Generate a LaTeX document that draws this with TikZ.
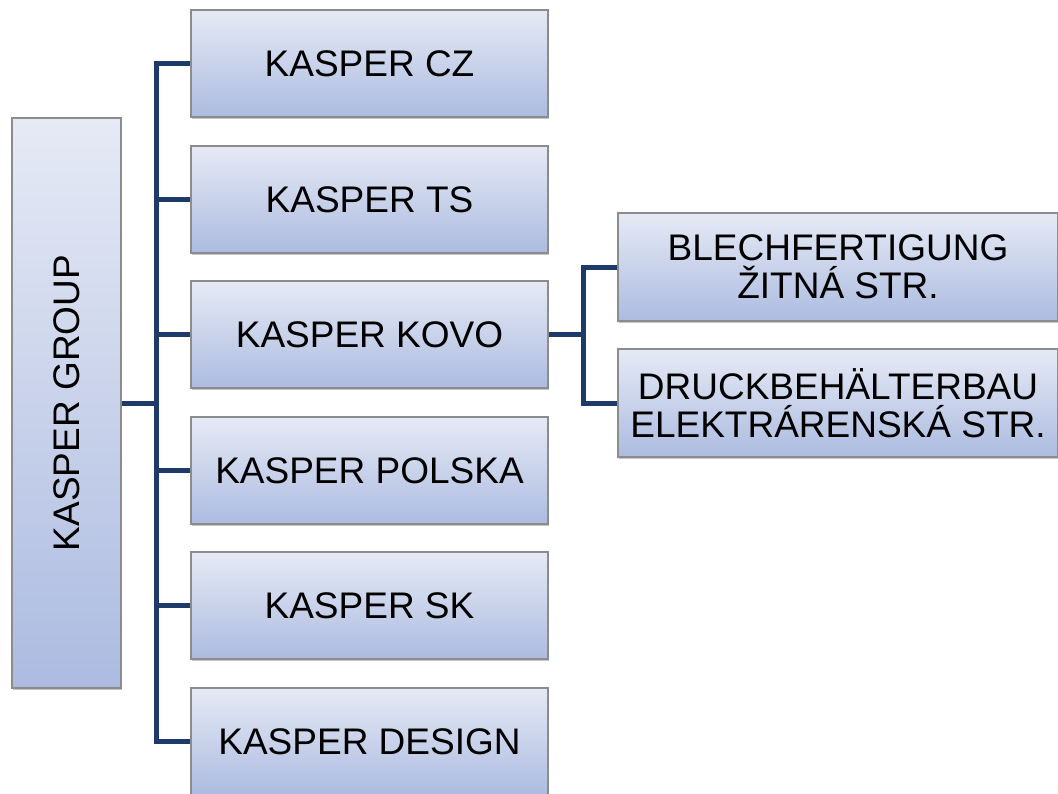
\documentclass[tikz,border=0pt]{standalone}
\usepackage{fontspec}
\setmainfont{Liberation Sans}
\usetikzlibrary{shadows}
\definecolor{linec}{RGB}{30,58,104}
\definecolor{topc}{RGB}{230,234,245}
\definecolor{botc}{RGB}{172,187,224}
\definecolor{edgec}{RGB}{140,140,140}
\tikzset{
  boxnode/.style={draw=edgec, line width=1.2pt, top color=topc, bottom color=botc,
    inner sep=0pt, align=center, font=\fontsize{37}{38}\selectfont,
    drop shadow={shadow xshift=1pt, shadow yshift=-2pt, fill=black!45, opacity=0.5}},
  midbox/.style={boxnode, minimum width=357pt, minimum height=107pt},
  rightbox/.style={boxnode, minimum width=440pt, minimum height=108pt},
  conn/.style={draw=linec, line width=5pt}
}
\begin{document}
\begin{tikzpicture}[x=1pt,y=-1pt]
\useasboundingbox (0,0) rectangle (1058,793);
\node[boxnode, minimum width=109pt, minimum height=570pt] (group) at (66.5,403) {};
\node[rotate=90, font=\fontsize{37}{38}\selectfont] (grouplbl) at (66.5,403) {KASPER GROUP};
\node[midbox] (cz) at (369.5,63.5) {KASPER CZ};
\node[midbox] (ts) at (369.5,199.5) {KASPER TS};
\node[midbox] (kovo) at (369.5,334.5) {KASPER KOVO};
\node[midbox] (polska) at (369.5,470.5) {KASPER POLSKA};
\node[midbox] (sk) at (369.5,605.5) {KASPER SK};
\node[midbox] (design) at (369.5,741.5) {KASPER DESIGN};
\node[rightbox] (blech) at (838,267) {BLECHFERTIGUNG\\ŽITNÁ STR.};
\node[rightbox] (druck) at (838,403) {DRUCKBEHÄLTERBAU\\ELEKTRÁRENSKÁ STR.};
\coordinate (j1) at (156.5,403);
\coordinate (j2) at (583,335);
\draw[conn] (group.east) -- (j1);
\draw[conn] (cz.west) -- (cz.west -| j1) -- (design.west -| j1) -- (design.west);
\foreach \n in {ts,kovo,polska,sk} {\draw[conn] (\n.west) -- (\n.west -| j1);}
\draw[conn] (kovo.east) -- (kovo.east -| j2);
\draw[conn] (blech.west) -- (blech.west -| j2) -- (druck.west -| j2) -- (druck.west);
\end{tikzpicture}
\end{document}
